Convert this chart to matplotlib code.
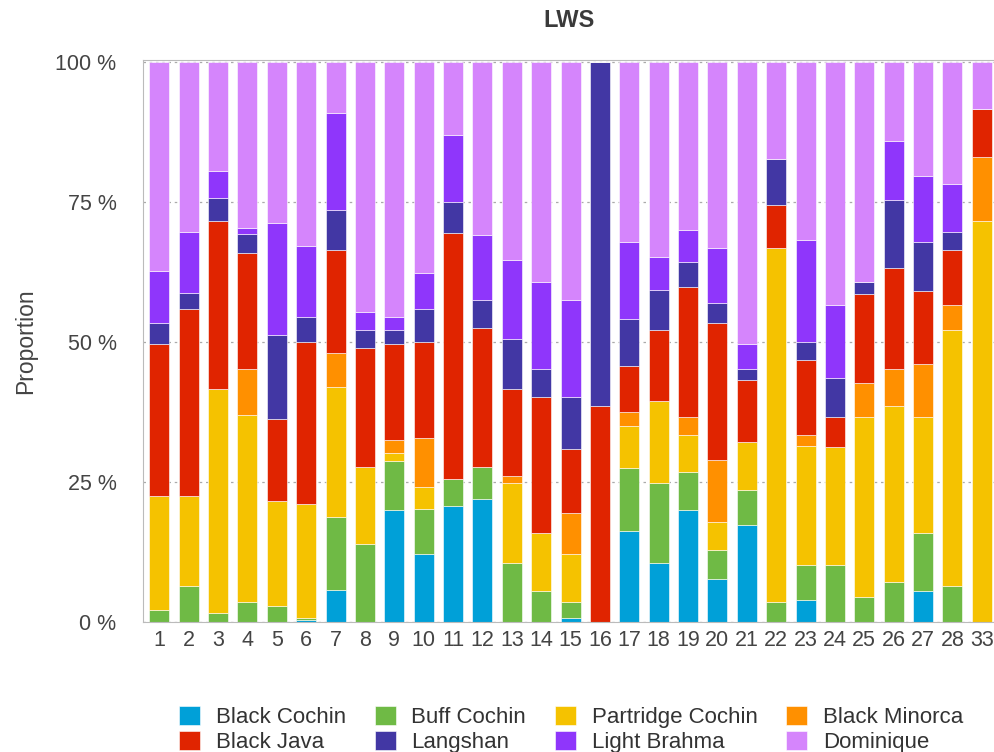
import matplotlib.pyplot as plt
import numpy as np

plt.rcParams["font.family"] = ["Liberation Sans", "DejaVu Sans"]

groups = ["1", "2", "3", "4", "5", "6", "7", "8", "9", "10", "11", "12", "13", "14",
          "15", "16", "17", "18", "19", "20", "21", "22", "23", "24", "25", "26", "27",
          "28", "33"]

black_cochin = [0, 0, 0, 0, 0, 0.4, 5.7, 0, 19.9, 12.1, 20.7, 21.9, 0, 0,
                0.8, 0, 16.2, 10.5, 19.9, 7.6, 17.4, 0, 4.0, 0, 0, 0, 5.6, 0, 0]
buff_cochin = [2.1, 6.4, 1.6, 3.6, 2.8, 0.4, 13.0, 13.9, 8.9, 8.1, 4.9, 5.8, 10.5, 5.6,
               2.8, 0, 11.3, 14.3, 6.9, 5.3, 6.2, 3.6, 6.1, 10.1, 4.4, 7.2, 10.2, 6.4, 0]
partridge_cochin = [20.3, 16.0, 39.9, 33.4, 18.8, 20.3, 23.3, 13.8, 1.3, 3.9, 0, 0, 14.3, 10.2,
                    8.6, 0, 7.4, 14.7, 6.6, 5.0, 8.5, 63.1, 21.3, 21.2, 32.2, 31.4, 20.8, 45.7, 71.6]
black_minorca = [0, 0, 0, 8.1, 0, 0, 6.0, 0, 2.4, 8.8, 0, 0, 1.2, 0,
                 7.3, 0, 2.5, 0, 3.2, 11.0, 0, 0, 1.9, 0, 6.1, 6.5, 9.4, 4.5, 11.4]
black_java = [27.2, 33.4, 30.1, 20.8, 14.6, 28.9, 18.4, 21.2, 17.1, 17.1, 43.9, 24.7, 15.5, 24.4,
              11.4, 38.6, 8.2, 12.6, 23.2, 24.4, 11.1, 7.8, 13.4, 5.3, 15.8, 18.0, 13.0, 9.8, 8.6]
langshan = [3.7, 2.9, 4.1, 3.3, 15.1, 4.5, 7.2, 3.2, 2.5, 5.8, 5.4, 5.0, 9.0, 4.9,
            9.3, 61.4, 8.5, 7.2, 4.4, 3.6, 2.0, 8.1, 3.3, 6.9, 2.1, 12.2, 8.9, 3.2, 0]
light_brahma = [9.4, 10.9, 4.8, 1.2, 19.9, 12.6, 17.2, 3.3, 2.4, 6.5, 12.1, 11.7, 14.1, 15.5,
                17.2, 0, 13.8, 5.8, 5.8, 9.8, 4.4, 0, 18.2, 13.0, 0, 10.5, 11.7, 8.6, 0]
dominique = [37.3, 30.4, 19.5, 29.6, 28.8, 32.9, 9.2, 44.6, 45.5, 37.7, 13.0, 30.9, 35.4, 39.4,
             42.6, 0, 32.1, 34.9, 30.0, 33.3, 50.4, 17.4, 31.8, 43.5, 39.4, 14.2, 20.4, 21.8, 8.4]

series = [
    ("Black Cochin", black_cochin, "#00a0d8"),
    ("Buff Cochin", buff_cochin, "#6fba45"),
    ("Partridge Cochin", partridge_cochin, "#f5c200"),
    ("Black Minorca", black_minorca, "#ff9000"),
    ("Black Java", black_java, "#e02400"),
    ("Langshan", langshan, "#4237a4"),
    ("Light Brahma", light_brahma, "#8f36fb"),
    ("Dominique", dominique, "#d585fc"),
]

fig = plt.figure(figsize=(9.95, 7.52), dpi=100)
ax = fig.add_axes([143 / 995, 1 - 622 / 752, 1 - 143 / 995, (622 - 60) / 752])

x = np.arange(len(groups))
bottom = np.zeros(len(groups))
handles = {}
for name, vals, color in series:
    vals = np.array(vals, dtype=float)
    bars = ax.bar(x, vals, bottom=bottom, width=0.68, color=color,
                  edgecolor="white", linewidth=0.4, zorder=2, label=name)
    handles[name] = bars
    bottom += vals

ax.set_xlim(-0.555, 28.45)
ax.set_ylim(0, 100.3)
ax.set_xticks(x)
ax.set_xticklabels(groups)
ax.set_yticks([0, 25, 50, 75, 100])
ax.set_yticklabels(["0 %", "25 %", "50 %", "75 %", "100 %"])
ax.tick_params(length=0, labelsize=15.5, colors="#444444")
ax.tick_params(axis="x", pad=6)
ax.tick_params(axis="y", pad=19)
ax.grid(axis="y", linestyle=(0, (2, 3)), color="#aaaaaa", linewidth=0.9, zorder=0)
for side in ["left", "bottom", "top"]:
    ax.spines[side].set_color("#bbbbbb")
ax.spines["right"].set_visible(False)

ax.set_ylabel("Proportion", fontsize=16.5, color="#444444", labelpad=13)
ax.set_title("LWS", fontsize=17, fontweight="bold", color="#3a3a3a", pad=24)

order = ["Black Cochin", "Black Java", "Buff Cochin", "Langshan",
         "Partridge Cochin", "Light Brahma", "Black Minorca", "Dominique"]
fig.legend([handles[n] for n in order], order, ncol=4, loc="center",
           bbox_to_anchor=(0.574, 0.030), frameon=False, fontsize=16,
           handlelength=0.95, handleheight=0.95, handletextpad=0.7,
           columnspacing=1.3, labelspacing=0.14, labelcolor="#333333")

fig.savefig("out.png", dpi=100)
